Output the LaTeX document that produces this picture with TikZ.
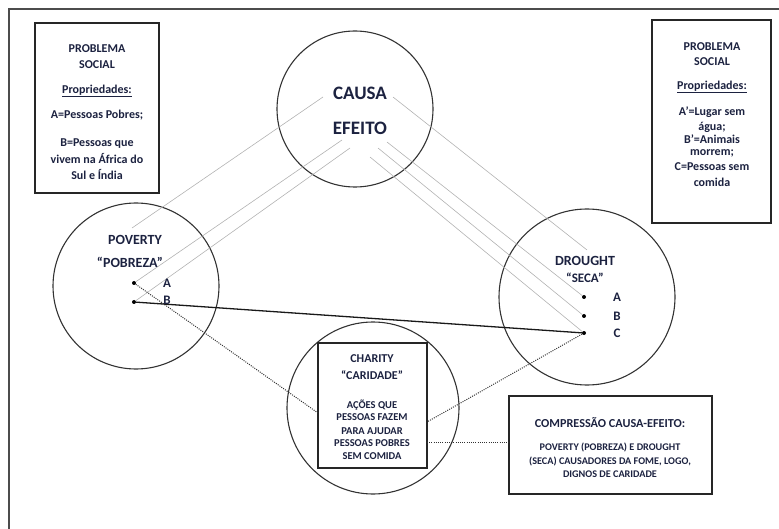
\documentclass[tikz,border=0pt]{standalone}
\usepackage{fontspec}
\setmainfont{Carlito}
\definecolor{txt}{HTML}{1C2240}
\begin{document}
\begin{tikzpicture}[x=1pt,y=-1pt,
  circ/.style={circle, draw=black!80, line width=1.1pt, inner sep=0pt},
  boxs/.style={draw=black!85, line width=1.4pt, rectangle, inner sep=0pt},
  lbl/.style={text=txt, font=\bfseries, inner sep=0pt, align=center},
  small/.style={lbl, font=\bfseries\fontsize{12}{14}\selectfont},
  ray/.style={draw=black!30, line width=0.6pt},
  dotl/.style={draw=black!80, line width=1pt, dash pattern=on 1pt off 1.2pt},
  pnt/.style={circle, fill=black, inner sep=0pt, minimum size=4pt},
]
\useasboundingbox (0,0) rectangle (779,529);
\draw[black!70, line width=1.3pt] (9,535) -- (9,9) -- (785,9);

% circles
\node[circ, minimum size=156pt] (causa) at (355,109) {};
\node[circ, minimum size=166pt] (poverty) at (136,286) {};
\node[circ, minimum size=176pt] (drought) at (587,297) {};
\node[circ, minimum size=172pt] (charity) at (373,408) {};

% boxes
\node[boxs, fill=white, minimum width=124pt, minimum height=170pt] (lbox) at (97,108) {};
\node[boxs, fill=white, minimum width=119pt, minimum height=203pt] (rbox) at (711.5,121.5) {};
\node[boxs, fill=white, minimum width=203pt, minimum height=98pt] (cbox) at (610.5,445) {};

% dots
\node[pnt] (pA) at (134,283) {};
\node[pnt] (pB) at (134,302) {};
\node[pnt] (dA) at (584,297) {};
\node[pnt] (dB) at (584,316) {};
\node[pnt] (dC) at (584,333) {};

% ray ends
\coordinate (c1) at (323,97);
\coordinate (c2) at (342,140);
\coordinate (c3) at (350,148);
\coordinate (c4) at (393,97);
\coordinate (c5) at (387,142);
\coordinate (c6) at (378,148);
\coordinate (c7) at (370,157);
\coordinate (p0) at (132,228);
\coordinate (d0) at (587,250);

\draw[ray] (p0) -- (c1);
\draw[ray] (pA) -- (c2);
\draw[ray] (pB) -- (c3);
\draw[ray] (c4) -- (d0);
\draw[ray] (c5) -- (dA);
\draw[ray] (c6) -- (dB);
\draw[ray] (c7) -- (dC);

% charity box
\node[boxs, fill=white, minimum width=109pt, minimum height=125pt] (chbox) at (372.5,405.5) {};
\coordinate (chW) at (318,413);
\coordinate (chE) at (427,422);
\coordinate (chE2) at (427,442);
\coordinate (cbW) at (509,442);

\draw[dotl] (pA) -- (chW);
\draw[dotl] (dC) -- (chE);
\draw[dotl] (chE2) -- (cbW);
\draw[black!90, line width=1.3pt] (pB) -- (dC);

% texts
\node[lbl, font=\bfseries\fontsize{19}{21}\selectfont] (tcausa) at (360,93) {CAUSA};
\node[lbl, font=\bfseries\fontsize{19}{21}\selectfont] (tefeito) at (360,128) {EFEITO};

\node[lbl, font=\bfseries\fontsize{14}{16}\selectfont] (tpov) at (135,240) {POVERTY};
\node[lbl, font=\bfseries\fontsize{14}{16}\selectfont] (tpob) at (130,262) {“POBREZA”};
\node[lbl, font=\bfseries\fontsize{13}{15}\selectfont] (tpa) at (167,283) {A};
\node[lbl, font=\bfseries\fontsize{13}{15}\selectfont] (tpb) at (167,300) {B};

\node[lbl, font=\bfseries\fontsize{14}{16}\selectfont] (tdr) at (585,261) {DROUGHT};
\node[lbl, font=\bfseries\fontsize{13}{15}\selectfont] (tseca) at (585,278) {“SECA”};
\node[lbl, font=\bfseries\fontsize{13}{15}\selectfont] (tda) at (617,297) {A};
\node[lbl, font=\bfseries\fontsize{13}{15}\selectfont] (tdb) at (617,316) {B};
\node[lbl, font=\bfseries\fontsize{13}{15}\selectfont] (tdc) at (617,333) {C};

\begin{scope}[every node/.style={small}]
\node (l1) at (97,49) {PROBLEMA};
\node (l2) at (97,65) {SOCIAL};
\node (l3) at (97,91) {\underline{Propriedades:}};
\node (l4) at (97,115) {A=Pessoas Pobres;};
\node (l5) at (97,144) {B=Pessoas que};
\node (l6) at (97,159) {vivem na África do};
\node (l7) at (97,175) {Sul e Índia};

\node (r1) at (712,47) {PROBLEMA};
\node (r2) at (712,62) {SOCIAL};
\node (r3) at (712,87) {\underline{Propriedades:}};
\node (r4) at (712,112) {A’=Lugar sem};
\node (r5) at (712,127) {água;};
\node (r6) at (712,139) {B’=Animais};
\node (r7) at (712,153) {morrem;};
\node (r8) at (712,167) {C=Pessoas sem};
\node (r9) at (712,182) {comida};
\end{scope}

\node[lbl, font=\bfseries\fontsize{12}{14}\selectfont] (h1) at (372,359) {CHARITY};
\node[lbl, font=\bfseries\fontsize{12}{14}\selectfont] (h2) at (372,375) {“CARIDADE”};
\begin{scope}[every node/.style={lbl, font=\bfseries\fontsize{10.5}{12}\selectfont}]
\node (h3) at (372,405) {AÇÕES QUE};
\node (h4) at (372,417) {PESSOAS FAZEM};
\node (h5) at (372,431) {PARA AJUDAR};
\node (h6) at (372,443) {PESSOAS POBRES};
\node (h7) at (372,456) {SEM COMIDA};
\end{scope}

\node[lbl, font=\bfseries\fontsize{12.2}{14}\selectfont] (k1) at (610,423) {COMPRESSÃO CAUSA-EFEITO:};
\begin{scope}[every node/.style={lbl, font=\bfseries\fontsize{10.2}{12}\selectfont}]
\node (k2) at (610,447) {POVERTY (POBREZA) E DROUGHT};
\node (k3) at (610,461) {(SECA) CAUSADORES DA FOME, LOGO,};
\node (k4) at (610,474) {DIGNOS DE CARIDADE};
\end{scope}
\end{tikzpicture}
\end{document}
